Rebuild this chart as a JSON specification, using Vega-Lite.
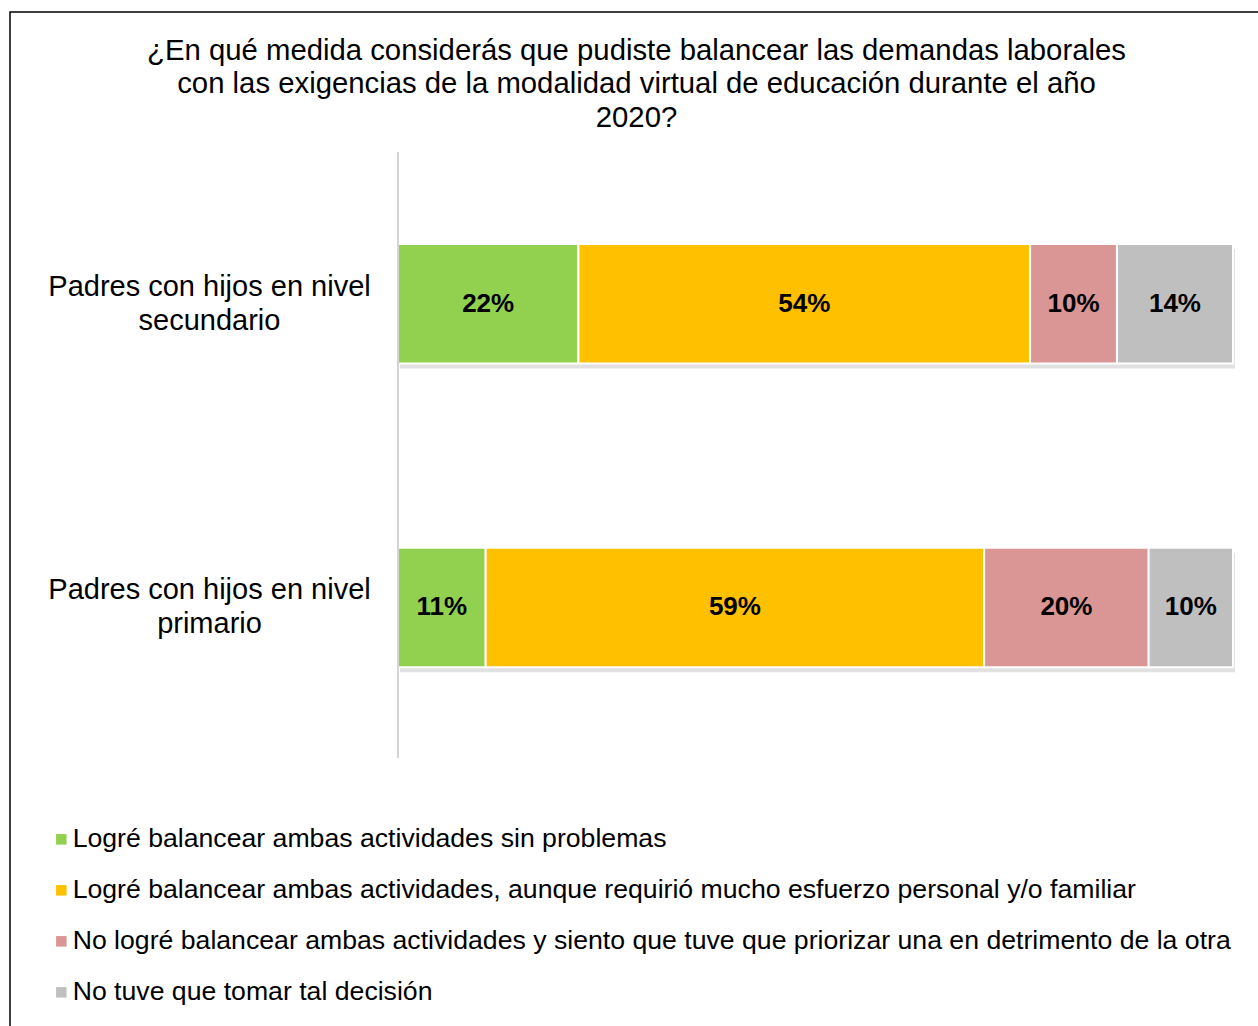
{
  "$schema": "https://vega.github.io/schema/vega-lite/v6.json",
  "width": 1251,
  "height": 1017,
  "autosize": {"type": "none"},
  "padding": {"left": 10, "top": 12, "right": -3, "bottom": -3},
  "background": "white",
  "title": {
    "text": ["¿En qué medida considerás que pudiste balancear las demandas laborales", "con las exigencias de la modalidad virtual de educación durante el año", "2020?"],
    "font": "Liberation Sans",
    "fontSize": 29.3,
    "fontWeight": "normal",
    "color": "black",
    "lineHeight": 33.5,
    "anchor": "middle",
    "frame": "group",
    "offset": -121,
    "dx": 1
  },
  "config": {
    "view": {"stroke": "black", "strokeWidth": 1.5},
    "font": "Liberation Sans"
  },
  "data": {
    "values": [
      {"grupo": "Padres con hijos en nivel secundario", "categoria": "Logré balancear ambas actividades sin problemas", "orden": 1, "valor": 21.6, "etiqueta": "22%"},
      {"grupo": "Padres con hijos en nivel secundario", "categoria": "Logré balancear ambas actividades, aunque requirió mucho esfuerzo personal y/o familiar", "orden": 2, "valor": 54.1, "etiqueta": "54%"},
      {"grupo": "Padres con hijos en nivel secundario", "categoria": "No logré balancear ambas actividades y siento que tuve que priorizar una en detrimento de la otra", "orden": 3, "valor": 10.4, "etiqueta": "10%"},
      {"grupo": "Padres con hijos en nivel secundario", "categoria": "No tuve que tomar tal decisión", "orden": 4, "valor": 13.9, "etiqueta": "14%"},
      {"grupo": "Padres con hijos en nivel primario", "categoria": "Logré balancear ambas actividades sin problemas", "orden": 1, "valor": 10.5, "etiqueta": "11%"},
      {"grupo": "Padres con hijos en nivel primario", "categoria": "Logré balancear ambas actividades, aunque requirió mucho esfuerzo personal y/o familiar", "orden": 2, "valor": 59.7, "etiqueta": "59%"},
      {"grupo": "Padres con hijos en nivel primario", "categoria": "No logré balancear ambas actividades y siento que tuve que priorizar una en detrimento de la otra", "orden": 3, "valor": 19.7, "etiqueta": "20%"},
      {"grupo": "Padres con hijos en nivel primario", "categoria": "No tuve que tomar tal decisión", "orden": 4, "valor": 10.1, "etiqueta": "10%"}
    ]
  },
  "layer": [
    {
      "mark": {"type": "bar", "color": "#dadada", "opacity": 0.8, "yOffset": 5, "xOffset": 2},
      "encoding": {
        "x": {
          "field": "valor",
          "type": "quantitative",
          "stack": "zero",
          "scale": {"domain": [-46.467, 103.353], "nice": false, "zero": false},
          "axis": null
        },
        "y": {
          "field": "grupo",
          "type": "nominal",
          "sort": null,
          "scale": {
            "domain": ["Padres con hijos en nivel secundario", "Padres con hijos en nivel primario"],
            "paddingInner": 0.6065,
            "paddingOuter": 0.9776,
            "align": 0.3907
          },
          "axis": {
            "title": null,
            "domain": false,
            "ticks": false,
            "tickSize": 0,
            "grid": false,
            "labelAlign": "center",
            "labelBaseline": "middle",
            "labelPadding": -199,
            "labelOffset": -17,
            "labelFontSize": 29,
            "labelFont": "Liberation Sans",
            "labelColor": "black",
            "labelLineHeight": 34,
            "labelLimit": 1000,
            "labelExpr": "[slice(datum.label, 0, 25), slice(datum.label, 26)]"
          }
        },
        "detail": {"field": "categoria", "type": "nominal"},
        "order": {"field": "orden", "type": "quantitative"}
      }
    },
    {
      "mark": {"type": "bar", "stroke": "white", "strokeWidth": 2},
      "encoding": {
        "x": {"field": "valor", "type": "quantitative", "stack": "zero"},
        "y": {"field": "grupo", "type": "nominal"},
        "color": {
          "field": "categoria",
          "type": "nominal",
          "scale": {
            "domain": [
              "Logré balancear ambas actividades sin problemas",
              "Logré balancear ambas actividades, aunque requirió mucho esfuerzo personal y/o familiar",
              "No logré balancear ambas actividades y siento que tuve que priorizar una en detrimento de la otra",
              "No tuve que tomar tal decisión"
            ],
            "range": ["#92D050", "#FFC000", "#D99694", "#BFBFBF"]
          },
          "legend": {
            "title": null,
            "orient": "none",
            "legendX": 38,
            "legendY": 814,
            "symbolType": "square",
            "symbolSize": 110,
            "symbolStrokeWidth": 0,
            "labelFontSize": 26.65,
            "labelFont": "Liberation Sans",
            "labelColor": "black",
            "labelLimit": 2000,
            "rowPadding": 24,
            "labelOffset": -2,
            "padding": 0
          }
        },
        "order": {"field": "orden", "type": "quantitative"}
      }
    },
    {
      "mark": {"type": "text", "font": "Liberation Sans", "fontSize": 26, "fontWeight": "bold", "color": "black", "baseline": "middle", "align": "center"},
      "encoding": {
        "x": {"field": "valor", "type": "quantitative", "stack": "zero", "bandPosition": 0.5},
        "y": {"field": "grupo", "type": "nominal"},
        "detail": {"field": "categoria", "type": "nominal"},
        "order": {"field": "orden", "type": "quantitative"},
        "text": {"field": "etiqueta", "type": "nominal"}
      }
    },
    {
      "data": {"values": [{}]},
      "mark": {"type": "rule", "color": "#d4d4d4", "strokeWidth": 2},
      "encoding": {
        "x": {"datum": 0, "type": "quantitative"},
        "y": {"datum": "Padres con hijos en nivel secundario", "type": "nominal", "bandPosition": -0.77},
        "y2": {"datum": "Padres con hijos en nivel primario", "bandPosition": 1.759}
      }
    }
  ]
}
